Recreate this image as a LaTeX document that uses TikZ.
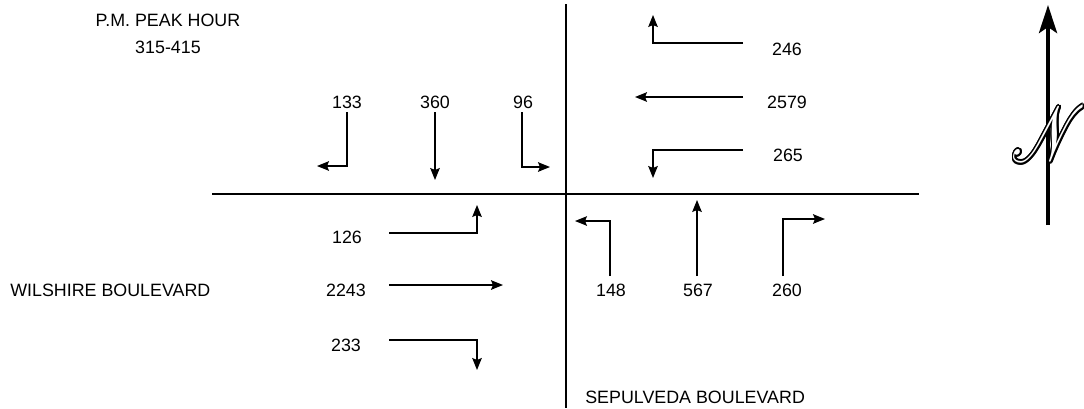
\documentclass[tikz,border=0pt]{standalone}
\usepackage{fontspec}
\setmainfont{Liberation Sans}
\usepackage{mathrsfs}
\usetikzlibrary{arrows.meta, positioning}

\newcommand{\NorthLetter}{\scalebox{1.7}[2.25]{\Huge$\mathscr{N}$}}

\tikzset{
  road/.style={line width=1.3pt},
  turn/.style={line width=0.9pt, -{Stealth[length=3mm, width=2.4mm, inset=0.5mm]}},
}

\begin{document}
\begin{tikzpicture}[x=0.25mm, y=-0.25mm, font=\fontsize{12.7}{15}\selectfont]
    \useasboundingbox (0,0) rectangle (1084,408);

    % Street centre lines
    \draw[road] (212,194) -- (919,194);
    \draw[road] (566,4) -- (566,408);

    % Title
    \node (title) at (168,20) {P.M. PEAK HOUR};
    \node (period) at (168,47) {315-415};

    % Street names
    \node[anchor=west, inner sep=0pt] (wilshire) at (10,290) {WILSHIRE BOULEVARD};
    \node[anchor=west, inner sep=0pt] (sepulveda) at (585,397) {SEPULVEDA BOULEVARD};

    % Southbound approach
    \node (sbLeft) at (347,102) {133};
    \node (sbThru) at (435,102) {360};
    \node (sbRight) at (523,102) {96};
    \draw[turn] (347,112) -- (347,166) -- (317,166);
    \draw[turn] (435,112) -- (435,180);
    \draw[turn] (522,112) -- (522,167) -- (550,167);

    % Westbound approach
    \node (wbRight) at (787,49) {246};
    \node (wbThru) at (787,102) {2579};
    \node (wbLeft) at (788,155) {265};
    \draw[turn] (743,43) -- (653,43) -- (653,15);
    \draw[turn] (743,97) -- (635,97);
    \draw[turn] (743,150) -- (653,150) -- (653,178);

    % Eastbound approach
    \node (ebLeft) at (347,237) {126};
    \node (ebThru) at (346,290) {2243};
    \node (ebRight) at (346,345) {233};
    \draw[turn] (389,233) -- (477,233) -- (477,205);
    \draw[turn] (389,285) -- (503,285);
    \draw[turn] (389,340) -- (477,340) -- (477,370);

    % Northbound approach
    \node (nbLeft) at (611,290) {148};
    \node (nbThru) at (698,290) {567};
    \node (nbRight) at (787,290) {260};
    \draw[turn] (610,276) -- (610,221) -- (575,221);
    \draw[turn] (697,276) -- (697,200);
    \draw[turn] (783,276) -- (783,219) -- (825,219);

    % North arrow
    \draw[line width=3pt, -{Stealth[length=7mm, width=4.5mm, inset=1.5mm]}] (1048,225) -- (1048,5);
    \foreach \a in {0,30,...,330}
        \node[inner sep=0pt, shift={(\a:1.2pt)}] at (1049,134) {\NorthLetter};
    \node[inner sep=0pt, text=white] (north) at (1049,134) {\NorthLetter};
\end{tikzpicture}
\end{document}
